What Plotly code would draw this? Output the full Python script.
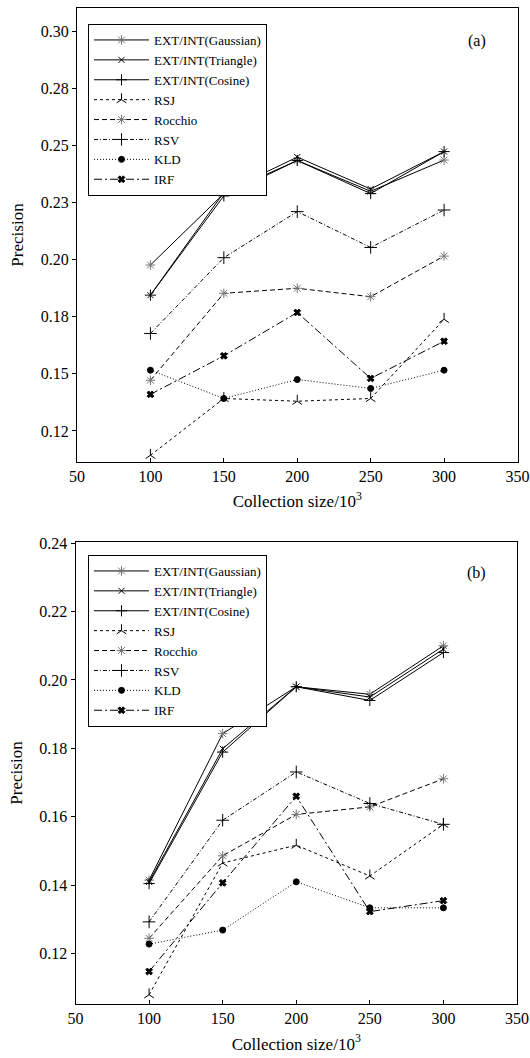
import plotly.graph_objects as go

sizes = [100, 150, 200, 250, 300]

# (a)
a_gauss = [0.1977, 0.2290, 0.2435, 0.2300, 0.2437]
a_tri = [0.1845, 0.2295, 0.2450, 0.2310, 0.2474]
a_cos = [0.1845, 0.2280, 0.2435, 0.2290, 0.2474]
a_rsj = [0.1143, 0.1392, 0.1380, 0.1392, 0.1739]
a_rocchio = [0.1472, 0.1853, 0.1875, 0.1838, 0.2016]
a_rsv = [0.1677, 0.2009, 0.2211, 0.2054, 0.2218]
a_kld = [0.1516, 0.1392, 0.1475, 0.1436, 0.1516]
a_irf = [0.1410, 0.1579, 0.1769, 0.1480, 0.1643]

# (b)
b_gauss = [0.1415, 0.1843, 0.1980, 0.1958, 0.2100]
b_tri = [0.1410, 0.1799, 0.1980, 0.1950, 0.2090]
b_cos = [0.1405, 0.1789, 0.1980, 0.1940, 0.2080]
b_rsj = [0.1080, 0.1465, 0.1517, 0.1427, 0.1578]
b_rocchio = [0.1245, 0.1486, 0.1607, 0.1629, 0.1711]
b_rsv = [0.1293, 0.1590, 0.1731, 0.1639, 0.1578]
b_kld = [0.1228, 0.1269, 0.1410, 0.1334, 0.1334]
b_irf = [0.1148, 0.1407, 0.1660, 0.1323, 0.1355]

names = ["EXT/INT(Gaussian)", "EXT/INT(Triangle)", "EXT/INT(Cosine)", "RSJ",
         "Rocchio", "RSV", "KLD", "IRF"]

a_tickvals = [0.125, 0.15, 0.175, 0.20, 0.225, 0.25, 0.275, 0.30]
a_ticktext = ["0.12", "0.15", "0.18", "0.20", "0.23", "0.25", "0.28", "0.30"]
b_tickvals = [0.12, 0.14, 0.16, 0.18, 0.20, 0.22, 0.24]
b_ticktext = ["0.12", "0.14", "0.16", "0.18", "0.20", "0.22", "0.24"]
x_tickvals = [50, 100, 150, 200, 250, 300, 350]

styles = [
    dict(dash="solid", symbol="asterisk-open", mcolor="#777777", size=8),
    dict(dash="solid", symbol="x-thin-open", mcolor="black", size=6),
    dict(dash="solid", symbol="cross-thin-open", mcolor="black", size=8),
    dict(dash="dot", symbol="y-up-open", mcolor="black", size=8),
    dict(dash="5px,3px", symbol="asterisk-open", mcolor="#777777", size=8),
    dict(dash="4px,2px,1px,2px", symbol="cross-thin-open", mcolor="black", size=9),
    dict(dash="1px,2px", symbol="circle", mcolor="black", size=6),
    dict(dash="8px,3px,2px,3px", symbol="x", mcolor="black", size=6),
]

FONT = "Liberation Serif"
fig = go.Figure()

for data, xa, ya, leg in [
    ([a_gauss, a_tri, a_cos, a_rsj, a_rocchio, a_rsv, a_kld, a_irf], "x", "y", "legend"),
    ([b_gauss, b_tri, b_cos, b_rsj, b_rocchio, b_rsv, b_kld, b_irf], "x2", "y2", "legend2"),
]:
    for nm, vals, st in zip(names, data, styles):
        fig.add_trace(go.Scatter(
            x=sizes, y=vals, name=nm, mode="lines+markers",
            xaxis=xa, yaxis=ya, legend=leg,
            line=dict(color="black", width=1, dash=st["dash"]),
            marker=dict(symbol=st["symbol"], size=st["size"], color=st["mcolor"],
                        line=dict(color=st["mcolor"], width=1)),
        ))

axis_common = dict(showline=True, linecolor="black", linewidth=1, mirror=True,
                   showgrid=False, zeroline=False, automargin=False,
                   tickfont=dict(family=FONT, size=16, color="black"),
                   ticklen=4, tickcolor="black")

xtitle = dict(text="Collection size/10<sup>3</sup>", font=dict(family=FONT, size=17, color="black"), standoff=11)
ytitle = dict(text="Precision", font=dict(family=FONT, size=17, color="black"), standoff=12)

legend_common = dict(xanchor="left", yanchor="top", bgcolor="white", bordercolor="black",
                     borderwidth=1, font=dict(family=FONT, size=13, color="black"),
                     tracegroupgap=0, itemwidth=55)

fig.update_layout(
    width=530, height=1058,
    margin=dict(l=0, r=0, t=0, b=0),
    paper_bgcolor="white", plot_bgcolor="white",
    font=dict(family=FONT, color="black"),
    xaxis=dict(domain=[77 / 530, 517.5 / 530], anchor="y", range=[50, 350],
               tickvals=x_tickvals, ticks="inside",
               ticklabeloverflow="allow", title=xtitle, **axis_common),
    yaxis=dict(domain=[1 - 461.7 / 1058, 1 - 8.3 / 1058], anchor="x", range=[0.1115, 0.3102],
               tickvals=a_tickvals, ticktext=a_ticktext, ticks="outside", title=ytitle, **axis_common),
    xaxis2=dict(domain=[75.5 / 530, 517 / 530], anchor="y2", range=[50, 350],
                tickvals=x_tickvals, ticks="inside",
                ticklabeloverflow="allow", title=xtitle, **axis_common),
    yaxis2=dict(domain=[1 - 1004 / 1058, 1 - 542 / 1058], anchor="x2", range=[0.1053, 0.2403],
                tickvals=b_tickvals, ticktext=b_ticktext, ticks="outside", title=ytitle, **axis_common),
    legend=dict(x=88 / 530, y=1 - 24 / 1058, **legend_common),
    legend2=dict(x=88 / 530, y=1 - 555 / 1058, **legend_common),
    annotations=[
        dict(text="(a)", x=488 / 530, y=1 - 30 / 1058, xref="paper", yref="paper",
             showarrow=False, font=dict(family=FONT, size=16, color="black")),
        dict(text="(b)", x=488 / 530, y=1 - 573 / 1058, xref="paper", yref="paper",
             showarrow=False, font=dict(family=FONT, size=16, color="black")),
    ],
)

fig.write_html("out.html", config={"displayModeBar": False},
               post_script="document.body.style.margin='0';document.body.style.overflow='hidden';")
